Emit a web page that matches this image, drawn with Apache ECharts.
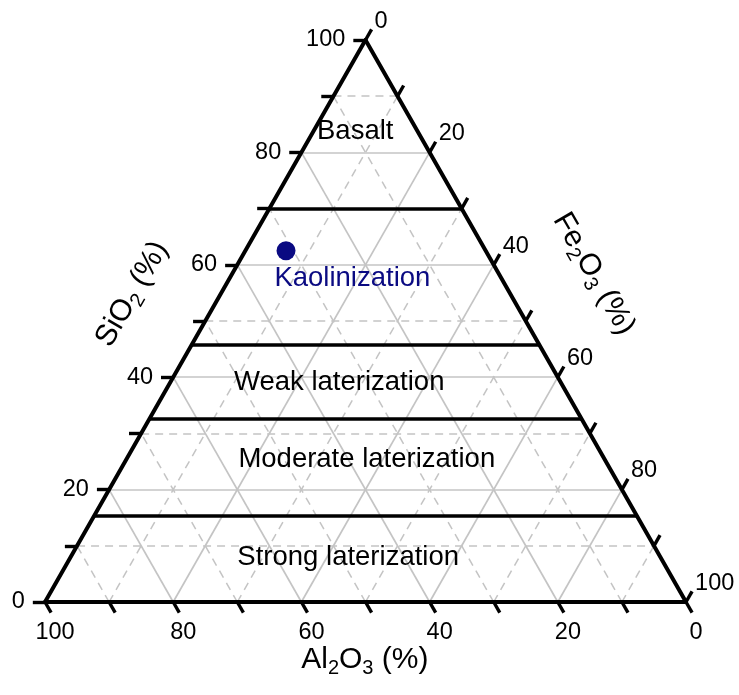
<!DOCTYPE html>
<html><head><meta charset="utf-8">
<script src="https://cdn.jsdelivr.net/npm/echarts@6/dist/echarts.min.js"></script>
<style>html,body{margin:0;padding:0;background:#fff}#c{width:739px;height:695px}</style>
</head><body><div id="c"></div>
<script>
// ---- data (ternary, in %) ----
const tickValues = [0,10,20,30,40,50,60,70,80,90,100];
const labelValues = [0,20,40,60,80,100];
const majorGrid = [20,40,60,80];
const minorGrid = [10,30,50,70,90];
const boundarySiO2 = [70, 45.7, 32.6, 15.3];
const zoneNames = ['Basalt','Kaolinization','Weak laterization','Moderate laterization','Strong laterization'];
const zoneSiO2 = [83.8, 57.5, 39.0, 25.4, 8.0];
const zoneFe2O3 = [6.5, 19.2, 26.4, 37.5, 43.3];
const sampleSiO2 = [62.5];
const sampleFe2O3 = [6.35];
const sampleAl2O3 = [31.15];

// ternary (SiO2, Fe2O3) -> cartesian data space (x: 0..100, y = SiO2)
function tern(si, fe){ return [fe + si/2, si]; }
const K = 1.9; // tick length in data units

const gridSeg = v => [
  {coords:[tern(v,0), tern(v,100-v)]},             // SiO2 = v
  {coords:[tern(0,v), tern(100-v,v)]},             // Fe2O3 = v
  {coords:[tern(0,100-v), tern(100-v,0)]}          // Al2O3 = v
];
const majorLines = majorGrid.flatMap(gridSeg);
const minorLines = minorGrid.flatMap(gridSeg);
const edges = [
  {coords:[tern(0,0), tern(0,100)]},
  {coords:[tern(0,100), tern(100,0)]},
  {coords:[tern(100,0), tern(0,0)]}
];
const boundaries = boundarySiO2.map(v => ({coords:[tern(v,0), tern(v,100-v)]}));
const ticks = [];
tickValues.forEach(v => {
  const a = tern(v,0); ticks.push({coords:[a,[a[0]-K,a[1]]]});                 // SiO2
  ticks.push({coords:[tern(100-v,v), tern(100-v+K,v)]});                       // Fe2O3
  ticks.push({coords:[tern(0,100-v), tern(-K,100-v+K)]});                      // Al2O3
});
const siLabels = labelValues.map(v => { const a = tern(v,0); return {value:[a[0]-K,a[1]], name:String(v)}; });
const feLabels = labelValues.map(v => ({value:tern(100-v+K,v), name:String(v)}));
const alLabels = labelValues.map(v => ({value:tern(-K,100-v+K), name:String(v)}));
const NAVY = '#0a0a82';
const zones = zoneNames.map((n,i) => ({value:tern(zoneSiO2[i], zoneFe2O3[i]), name:n,
  label: n==='Kaolinization' ? {color:NAVY} : {}}));
const samples = sampleSiO2.map((s,i) => tern(s, sampleFe2O3[i]));

const FONT = 'Liberation Sans, Arial, sans-serif';
const tickFont = 23.5;
const lblBase = {show:true, color:'#000', fontFamily:FONT, fontSize:tickFont, formatter: p => p.name};
const richT = {
  n:{fontSize:30, color:'#000', fontFamily:FONT},
  s:{fontSize:20, color:'#000', fontFamily:FONT, padding:[17,0,0,0]}
};
const op1 = {opacity:1, color:'#000'};

const chart = echarts.init(document.getElementById('c'), null, {renderer:'canvas'});
chart.setOption({
  animation:false,
  backgroundColor:'#fff',
  grid:{left:45, right:53, top:40, bottom:93},
  xAxis:{type:'value', min:0, max:100, show:false},
  yAxis:{type:'value', min:0, max:100, show:false},
  series:[
    {type:'lines', coordinateSystem:'cartesian2d', clip:false, silent:true, data:minorLines,
     lineStyle:{color:'#c4c4c4', width:1.5, type:[8,6], opacity:1}},
    {type:'lines', coordinateSystem:'cartesian2d', clip:false, silent:true, data:majorLines,
     lineStyle:{color:'#c4c4c4', width:1.7, type:'solid', opacity:1}},
    {type:'lines', coordinateSystem:'cartesian2d', clip:false, silent:true, data:boundaries,
     lineStyle:{color:'#000', width:3.6, opacity:1}},
    {type:'lines', coordinateSystem:'cartesian2d', clip:false, silent:true, data:ticks,
     lineStyle:{color:'#000', width:3.4, opacity:1}},
    {type:'lines', coordinateSystem:'cartesian2d', clip:false, silent:true, data:edges,
     lineStyle:{color:'#000', width:4, opacity:1, cap:'round', join:'round'}},
    {type:'scatter', clip:false, silent:true, symbolSize:0, data:siLabels, itemStyle:op1,
     label:Object.assign({}, lblBase, {position:'left', distance:8})},
    {type:'scatter', clip:false, silent:true, symbolSize:0, data:feLabels, itemStyle:op1,
     label:Object.assign({}, lblBase, {position:'right', distance:3, offset:[0,-8]})},
    {type:'scatter', clip:false, silent:true, symbolSize:0, data:alLabels, itemStyle:op1,
     label:Object.assign({}, lblBase, {position:'bottom', distance:8, offset:[4,0]})},
    {type:'scatter', clip:false, silent:true, symbolSize:0, data:zones, itemStyle:op1,
     label:{show:true, position:'inside', fontFamily:FONT, fontSize:27.5,
       formatter:p=>p.name, color:'#000'}},
    {type:'scatter', clip:false, silent:true, symbol:'circle', symbolSize:19, data:samples,
     itemStyle:{color:NAVY, opacity:1}},
    {type:'scatter', clip:false, silent:true, symbolSize:0, itemStyle:op1,
     data:[{value:[13.6,54.8], name:'{n|SiO}{s|2}{n| (%)}', r:60},
           {value:[85.6,58.4], name:'{n|Fe}{s|2}{n|O}{s|3}{n| (%)}', r:-60},
           {value:[49.9,-10.3], name:'{n|Al}{s|2}{n|O}{s|3}{n| (%)}', r:0}].map(d => ({
             value:d.value, name:d.name,
             label:{rotate:d.r}})),
     label:{show:true, position:'inside', formatter:p=>p.name, rich:richT}}
  ]
});
</script></body></html>
